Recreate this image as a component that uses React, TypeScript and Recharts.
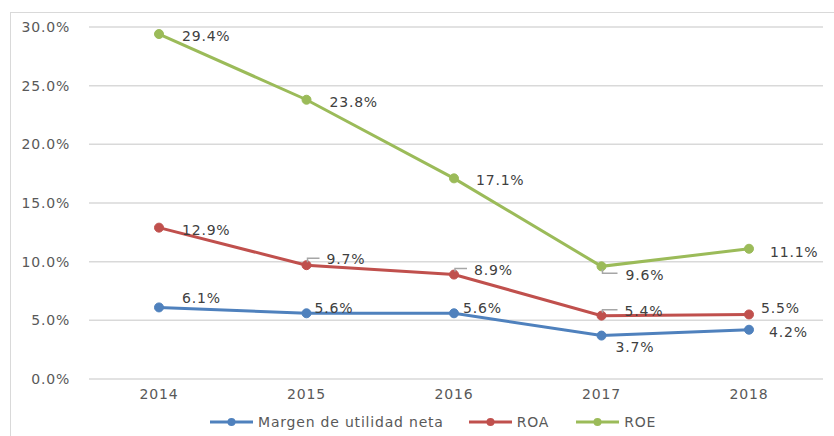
import React from 'react';
import { LineChart, Line, XAxis, YAxis, CartesianGrid, Legend, LabelList } from 'recharts';

const years = ['2014', '2015', '2016', '2017', '2018'];
const margenNeta = [6.1, 5.6, 5.6, 3.7, 4.2];
const roa = [12.9, 9.7, 8.9, 5.4, 5.5];
const roe = [29.4, 23.8, 17.1, 9.6, 11.1];
const yTicks = [0, 5, 10, 15, 20, 25, 30];

const data = years.map((year, i) => ({ year, margen: margenNeta[i], roa: roa[i], roe: roe[i] }));

type Off = { dx: number; dy: number; leader?: 'up' | 'down' };

const labelOffsets: Record<string, Off[]> = {
  margen: [
    { dx: 23, dy: -9 },
    { dx: 8, dy: -5 },
    { dx: 9, dy: -5 },
    { dx: 14, dy: 11 },
    { dx: 20, dy: 2 },
  ],
  roa: [
    { dx: 23, dy: 2 },
    { dx: 20, dy: -6, leader: 'up' },
    { dx: 20, dy: -5, leader: 'up' },
    { dx: 23, dy: -5, leader: 'up' },
    { dx: 12, dy: -6 },
  ],
  roe: [
    { dx: 23, dy: 2 },
    { dx: 23, dy: 2 },
    { dx: 22, dy: 2 },
    { dx: 24, dy: 9, leader: 'down' },
    { dx: 21, dy: 3 },
  ],
};

const series = [
  { key: 'margen', name: 'Margen de utilidad neta', color: '#4F81BD' },
  { key: 'roa', name: 'ROA', color: '#C0504D' },
  { key: 'roe', name: 'ROE', color: '#9BBB59' },
];

const FONT = 'DejaVu Sans';

const makeLabel = (key: string) => (props: any) => {
  const { x, y, value, index } = props;
  const o = labelOffsets[key][index];
  if (x == null || y == null) return null;
  const tx = x + o.dx;
  const ty = y + o.dy;
  let path: string | null = null;
  if (o.leader === 'up') {
    path = `M ${x + 1} ${y - 3} V ${ty - 1} H ${tx - 7}`;
  } else if (o.leader === 'down') {
    path = `M ${x + 1} ${y + 3} V ${ty - 2} H ${tx - 8}`;
  }
  return (
    <g>
      {path && <path d={path} fill="none" stroke="#a6a6a6" strokeWidth={1.5} />}
      <text
        x={tx}
        y={ty}
        dominantBaseline="central"
        fill="#404040"
        fontSize={14}
        fontFamily={FONT}
        letterSpacing={0.8}
      >
        {Number(value).toFixed(1) + '%'}
      </text>
    </g>
  );
};

const LegendContent = () => (
  <div style={{ display: 'flex', alignItems: 'center', paddingLeft: 210, height: 20 }}>
    {series.map((s, i) => (
      <div key={s.key} style={{ display: 'flex', alignItems: 'center', marginRight: i === 0 ? 25 : 27 }}>
        <svg width={43} height={12} style={{ display: 'block' }}>
          <line x1={0} y1={6} x2={43} y2={6} stroke={s.color} strokeWidth={3} />
          <circle cx={21.5} cy={6} r={4} fill={s.color} />
        </svg>
        <span
          style={{
            marginLeft: 5,
            fontFamily: FONT,
            fontSize: 14,
            letterSpacing: 0.8,
            color: '#595959',
            whiteSpace: 'nowrap',
          }}
        >
          {s.name}
        </span>
      </div>
    ))}
  </div>
);

export default function App() {
  return (
    <div style={{ position: 'absolute', left: 0, top: 0, width: 834, height: 436, background: '#fff', overflow: 'hidden' }}>
      <LineChart
        width={834}
        height={436}
        data={data}
        margin={{ top: 27, right: 11, bottom: 27, left: 0 }}
      >
        <CartesianGrid vertical={false} stroke="#d9d9d9" strokeWidth={1.5} />
        <XAxis
          dataKey="year"
          axisLine={false}
          tickLine={false}
          tickSize={0}
          tickMargin={10}
          height={30}
          interval={0}
          padding={{ left: 70, right: 74 }}
          tick={{ fill: '#595959', fontSize: 14, fontFamily: FONT, letterSpacing: 0.8 }}
        />
        <YAxis
          width={89}
          domain={[0, 30]}
          ticks={yTicks}
          interval={0}
          axisLine={false}
          tickLine={false}
          tickSize={0}
          tickMargin={19}
          tickFormatter={(v: number) => v.toFixed(1) + '%'}
          tick={{ fill: '#595959', fontSize: 14, fontFamily: FONT, letterSpacing: 0.8 }}
        />
        <Legend
          verticalAlign="middle"
          align="center"
          wrapperStyle={{ top: 412, left: 0, width: 834 }}
          content={LegendContent}
        />
        {series.map((s) => (
          <Line
            key={s.key}
            type="linear"
            dataKey={s.key}
            name={s.name}
            stroke={s.color}
            strokeWidth={3}
            dot={{ r: 4.5, fill: s.color, stroke: s.color, strokeWidth: 1 }}
            activeDot={false}
            isAnimationActive={false}
          >
            <LabelList dataKey={s.key} content={makeLabel(s.key)} />
          </Line>
        ))}
      </LineChart>
      <div
        style={{
          position: 'absolute',
          left: 10,
          top: 12,
          right: -2,
          bottom: -2,
          borderLeft: '1.5px solid #d9d9d9',
          borderTop: '1.5px solid #d9d9d9',
          pointerEvents: 'none',
        }}
      />
    </div>
  );
}
